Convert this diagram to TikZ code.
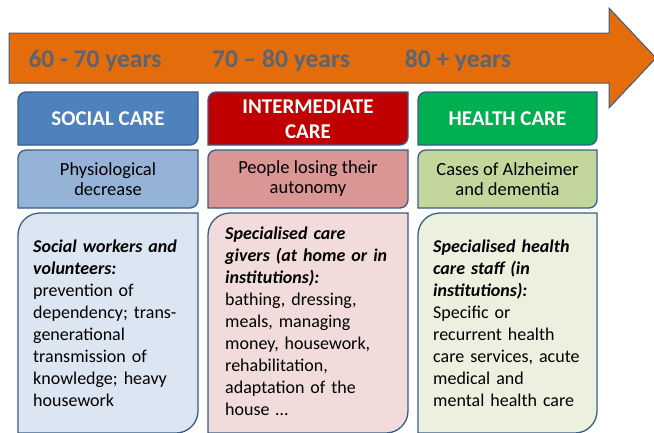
\documentclass[tikz,border=0pt]{standalone}
\usepackage{fontspec}
\setmainfont{Carlito}
\usetikzlibrary{calc}
\definecolor{arroworange}{RGB}{228,108,10}
\definecolor{edgeblue}{RGB}{56,93,138}
\definecolor{agegray}{RGB}{89,101,115}
\definecolor{socialhead}{RGB}{79,129,189}
\definecolor{socialmid}{RGB}{149,179,215}
\definecolor{sociallow}{RGB}{220,230,242}
\definecolor{interhead}{RGB}{192,0,0}
\definecolor{intermid}{RGB}{217,150,148}
\definecolor{interlow}{RGB}{242,220,219}
\definecolor{healthhead}{RGB}{0,176,80}
\definecolor{healthmid}{RGB}{195,214,155}
\definecolor{healthlow}{RGB}{235,241,222}
\def\diagbox[#1](#2,#3)(#4,#5)(#6){\draw[#1] (#2,#3+#6) arc (180:270:#6) -- (#4,#3) -- (#4,#5-#6) arc (0:90:#6) -- (#2,#5) -- cycle;}
\tikzset{
	agelabel/.style={font=\fontsize{25.5}{28}\selectfont\bfseries, text=agegray, inner sep=0pt, anchor=base},
	headtext/.style={font=\fontsize{21}{25}\selectfont\bfseries, text=white, align=center, inner sep=0pt},
	midtext/.style={font=\fontsize{18.5}{20}\selectfont, align=center, inner sep=0pt},
	lowtext/.style={font=\fontsize{18}{22}\selectfont, align=left, anchor=base west, text width=180pt, inner sep=0pt},
	boxedge/.style={draw=edgeblue, line width=1.3pt}
}
\begin{document}
\begin{tikzpicture}[x=1pt,y=-1pt]
		%%%%% START %%%%%
		\useasboundingbox (0,0) rectangle (654,432);
		
		% age arrow
		\draw[fill=arroworange, draw=edgeblue, line width=1pt] (9,33) -- (609,33) -- (609,8) -- (656,58) -- (609,108) -- (609,83) -- (9,83) -- cycle;
		\node[agelabel] (age1) at (95,67) {60 - 70 years};
		\node[agelabel] (age2) at (281,67) {70 – 80 years};
		\node[agelabel] (age3) at (458,67) {80 + years};
		
		% headers
		\diagbox[boxedge, fill=socialhead](18,92)(198,145)(8);
		\diagbox[boxedge, fill=interhead](208,92)(408,145)(8);
		\diagbox[boxedge, fill=healthhead](418,92)(597,145)(8);
		\node[headtext] (social) at (108,119) {SOCIAL CARE};
		\node[headtext] (inter) at (308,119) {INTERMEDIATE\\CARE};
		\node[headtext] (health) at (507.5,119) {HEALTH CARE};
		
		% decrease of autonomy
		\diagbox[boxedge, fill=socialmid](18,150)(198,208)(8);
		\diagbox[boxedge, fill=intermid](208,150)(408,208)(8);
		\diagbox[boxedge, fill=healthmid](418,150)(597,208)(8);
		\node[midtext] (socialneed) at (108,179) {Physiological\\decrease};
		\node[midtext] (interneed) at (308,179) {People losing their\\autonomy};
		\node[midtext] (healthneed) at (507.5,179) {Cases of Alzheimer\\and dementia};
		
		% who provides the care
		\diagbox[boxedge, fill=sociallow](18,213)(198,433)(22);
		\diagbox[boxedge, fill=interlow](208,213)(408,433)(22);
		\diagbox[boxedge, fill=healthlow](418,213)(597,433)(22);
		\node[lowtext] (socialstaff) at (33,252) {\textbf{\textit{Social workers and\\volunteers:}}\\prevention of\\dependency; trans-\\generational\\transmission of\\knowledge; heavy\\housework};
		\node[lowtext] (interstaff) at (225,239) {\textbf{\textit{Specialised care\\givers (at home or in\\institutions):}}\\bathing, dressing,\\meals, managing\\money, housework,\\rehabilitation,\\adaptation of the\\house …};
		\node[lowtext] (healthstaff) at (433,252) {\textbf{\textit{Specialised health\\care staff (in\\institutions):}}\\Specific or\\recurrent health\\care services, acute\\medical and\\mental health care};
		
		%%%%% END %%%%%
	\end{tikzpicture}
\end{document}
